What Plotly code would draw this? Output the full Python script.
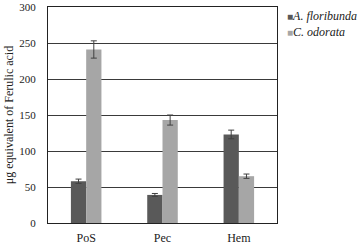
import plotly.graph_objects as go

categories = ["PoS", "Pec", "Hem"]
series_names = ["A. floribunda", "C. odorata"]
a_vals = [58, 39, 123]
a_err = [3, 2, 6]
c_vals = [241, 143, 65]
c_err = [12, 7, 3]
colors = ["#595959", "#a6a6a6"]

font = "Liberation Serif"
fig = go.Figure()
for name, vals, err, col in zip(series_names, [a_vals, c_vals], [a_err, c_err], colors):
    fig.add_bar(x=categories, y=vals, name=name, marker_color=col, marker_line_width=0,
                showlegend=False,
                error_y=dict(type="data", array=err, color="#404040", thickness=1, width=3))

for i, (name, col) in enumerate(zip(series_names, colors)):
    fig.add_annotation(xref="paper", yref="paper", x=1.035, y=(223 - 16 - i * 16) / 216,
                       xanchor="left", yanchor="middle", showarrow=False,
                       text=f"<span style='color:{col};font-size:10px'>■</span><i>{name}</i>",
                       font=dict(size=12, color="#222"))

fig.update_layout(
    width=360, height=244, barmode="group", bargap=0.6, bargroupgap=0,
    margin=dict(l=48, r=83, t=7, b=21, autoexpand=False),
    paper_bgcolor="white", plot_bgcolor="white",
    font=dict(family=font, size=11, color="#222"),
    yaxis=dict(range=[0, 300], dtick=50, showgrid=True, gridcolor="#3a3a3a", gridwidth=1,
               showline=True, linecolor="#222", linewidth=1, mirror=True, ticks="",
               automargin=False, ticklabeloverflow="allow", ticklabelstandoff=9,
               tickfont=dict(size=11),
               title=dict(text="μg equivalent of Ferulic acid", font=dict(size=12), standoff=3)),
    xaxis=dict(showline=True, linecolor="#222", linewidth=1, mirror=True, ticks="",
               automargin=False, ticklabelstandoff=4, tickfont=dict(size=12)),
)
fig.write_html("out.html", config={"displayModeBar": False},
               post_script="document.body.style.margin='0';")
